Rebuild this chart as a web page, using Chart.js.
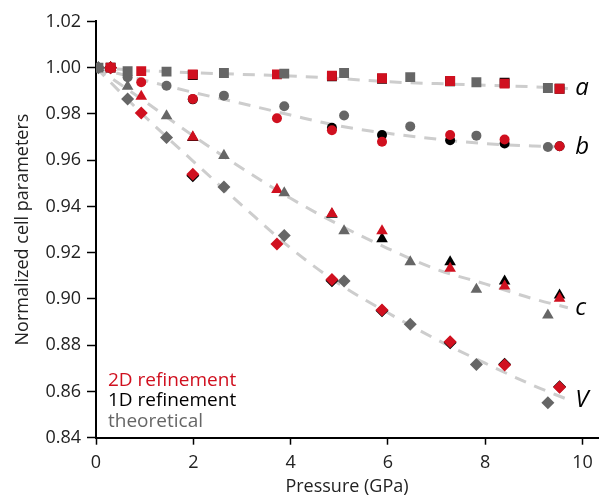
<!DOCTYPE html>
<html>
<head>
<meta charset="utf-8">
<style>
  html, body { margin: 0; padding: 0; background: #fff; }
  #wrap { width: 605px; height: 499px; }
</style>
</head>
<body>
<div id="wrap"><canvas id="myChart"></canvas></div>
<script src="https://cdn.jsdelivr.net/npm/chart.js@4.4.1/dist/chart.umd.min.js"></script>
<script>
// pressures (GPa)
var pTheory = [0.05, 0.65, 1.45, 2.63, 3.87, 5.10, 6.46, 7.82, 9.29];
var p2D = [0.30, 0.93, 1.99, 3.72, 4.85, 5.88, 7.28, 8.40, 9.53];
var p1D = [0.30, 1.99, 4.85, 5.88, 7.28, 8.40, 9.53];
var pFit = [0, 1, 2, 3, 4, 5, 6, 7, 8, 9, 9.7];

// theoretical (grey)
var theoryA = [1.000, 0.9985, 0.9983, 0.9977, 0.9974, 0.9977, 0.9959, 0.9937, 0.9912];
var theoryB = [1.000, 0.9959, 0.9922, 0.9879, 0.9833, 0.9793, 0.9746, 0.9706, 0.9657];
var theoryC = [1.000, 0.9919, 0.9791, 0.9620, 0.9458, 0.9294, 0.9160, 0.9041, 0.8930];
var theoryV = [1.000, 0.9865, 0.9698, 0.9484, 0.9274, 0.9078, 0.8890, 0.8717, 0.8551];

// 2D refinement (red)
var ref2dA = [1.000, 0.9985, 0.9971, 0.9971, 0.9965, 0.9954, 0.9942, 0.9931, 0.9909];
var ref2dB = [1.000, 0.9937, 0.9865, 0.9781, 0.9729, 0.9680, 0.9709, 0.9689, 0.9660];
var ref2dC = [1.000, 0.9876, 0.9700, 0.9473, 0.9369, 0.9294, 0.9132, 0.9055, 0.9002];
var ref2dV = [1.000, 0.9804, 0.9539, 0.9237, 0.9084, 0.8952, 0.8815, 0.8714, 0.8618];

// 1D refinement (black)
var ref1dA = [1.000, 0.9968, 0.9963, 0.9952, 0.9941, 0.9935, 0.9909];
var ref1dB = [1.000, 0.9863, 0.9740, 0.9709, 0.9686, 0.9672, 0.9660];
var ref1dC = [1.000, 0.9697, 0.9365, 0.9260, 0.9160, 0.9077, 0.9016];
var ref1dV = [1.000, 0.9533, 0.9079, 0.8949, 0.8811, 0.8718, 0.8620];

// dashed guide curves
var fitA = [1.000, 0.9987, 0.9978, 0.9971, 0.9964, 0.9953, 0.9939, 0.9931, 0.9924, 0.9917, 0.9910];
var fitB = [1.000, 0.9945, 0.9893, 0.9845, 0.9795, 0.9748, 0.9716, 0.9691, 0.9672, 0.9661, 0.9656];
var fitC = [1.000, 0.9855, 0.9705, 0.9565, 0.9435, 0.9320, 0.9218, 0.9128, 0.9065, 0.9000, 0.8962];
var fitV = [1.000, 0.9790, 0.9595, 0.9405, 0.9220, 0.9065, 0.8940, 0.8825, 0.8722, 0.8625, 0.8565];

var paramNames = ['a', 'b', 'c', 'V'];
var legendNames = ['2D refinement', '1D refinement', 'theoretical'];

var RED = '#d0101f', BLACK = '#000000', GREY = '#666666', DASH = '#cdcdcd';
var styles = ['rect', 'circle', 'triangle', 'rectRot'];
var radii = [7, 5, 6.7, 6.5];

function getPoints(xs, ys) {
    var pts = [];
    for (var i = 0; i < xs.length; i++) {
        pts.push({x: xs[i], y: ys[i]});
    }
    return pts;
}

function markerSet(xs, series, color) {
    var sets = [];
    for (var i = 0; i < series.length; i++) {
        sets.push({
            data: getPoints(xs, series[i]),
            pointStyle: styles[i],
            pointRadius: radii[i],
            pointBackgroundColor: color,
            pointBorderWidth: 0,
            showLine: false
        });
    }
    return sets;
}

var fits = [fitA, fitB, fitC, fitV];
var datasets = []
    .concat(markerSet(pTheory, [theoryA, theoryB, theoryC, theoryV], GREY))
    .concat(markerSet(p2D, [ref2dA, ref2dB, ref2dC, ref2dV], RED))
    .concat(markerSet(p1D, [ref1dA, ref1dB, ref1dC, ref1dV], BLACK));
for (var i = 0; i < fits.length; i++) {
    datasets.push({
        data: getPoints(pFit, fits[i]),
        showLine: true,
        pointRadius: 0,
        borderColor: DASH,
        borderWidth: 3,
        borderDash: [12, 9],
        cubicInterpolationMode: 'monotone'
    });
}

// letters at the end of the guide curves + colour legend
var textPlugin = {
    id: 'texts',
    afterDatasetsDraw: function (chart) {
        var ctx = chart.ctx, xs = chart.scales.x, ys = chart.scales.y, area = chart.chartArea;
        ctx.save();
        ctx.font = 'italic 24px "Open Sans"';
        ctx.fillStyle = '#000';
        ctx.textAlign = 'left';
        ctx.textBaseline = 'alphabetic';
        for (var i = 0; i < paramNames.length; i++) {
            var f = fits[i];
            ctx.fillText(paramNames[i], xs.getPixelForValue(9.85), ys.getPixelForValue(f[f.length - 1]) + 7);
        }
        ctx.font = '19px "Open Sans"';
        var colors = [RED, BLACK, GREY];
        var offs = [51.7, 31.5, 11.2];
        for (var j = 0; j < legendNames.length; j++) {
            ctx.fillStyle = colors[j];
            ctx.fillText(legendNames[j], area.left + 12, area.bottom - offs[j]);
        }
        ctx.restore();
    }
};

Chart.defaults.font.family = '"Open Sans", sans-serif';
Chart.defaults.color = '#222';

var ctx = document.getElementById('myChart').getContext('2d');
var chart = new Chart(ctx, {
    type: 'scatter',
    data: { datasets: datasets },
    options: {
        responsive: true,
        maintainAspectRatio: false,
        animation: false,
        layout: { padding: { top: 21.4, right: 0, left: 0, bottom: 0 } },
        plugins: { legend: { display: false }, tooltip: { enabled: false } },
        scales: {
            x: {
                type: 'linear',
                min: 0,
                max: 10.32,
                afterFit: function (s) { s.height = 61.3; },
                ticks: { stepSize: 2, includeBounds: false, autoSkip: false, maxRotation: 0, padding: 7, font: { size: 18 } },
                grid: { drawOnChartArea: false, tickLength: 7, tickColor: '#000', tickWidth: 1.5 },
                border: { color: '#000', width: 2 },
                title: { display: true, text: 'Pressure (GPa)', font: { size: 18 }, padding: { top: 0, bottom: 1 } }
            },
            y: {
                min: 0.84,
                max: 1.02,
                afterFit: function (s) { s.width = 96; },
                ticks: {
                    stepSize: 0.02, autoSkip: false, padding: 6, font: { size: 18 },
                    callback: function (v) { return v.toFixed(2); }
                },
                grid: { drawOnChartArea: false, tickLength: 9, tickColor: '#000', tickWidth: 1.5 },
                border: { color: '#000', width: 2 },
                title: { display: true, text: 'Normalized cell parameters', font: { size: 18 }, padding: { top: 12, bottom: 0 } }
            }
        }
    },
    plugins: [textPlugin]
});
</script>
</body>
</html>
